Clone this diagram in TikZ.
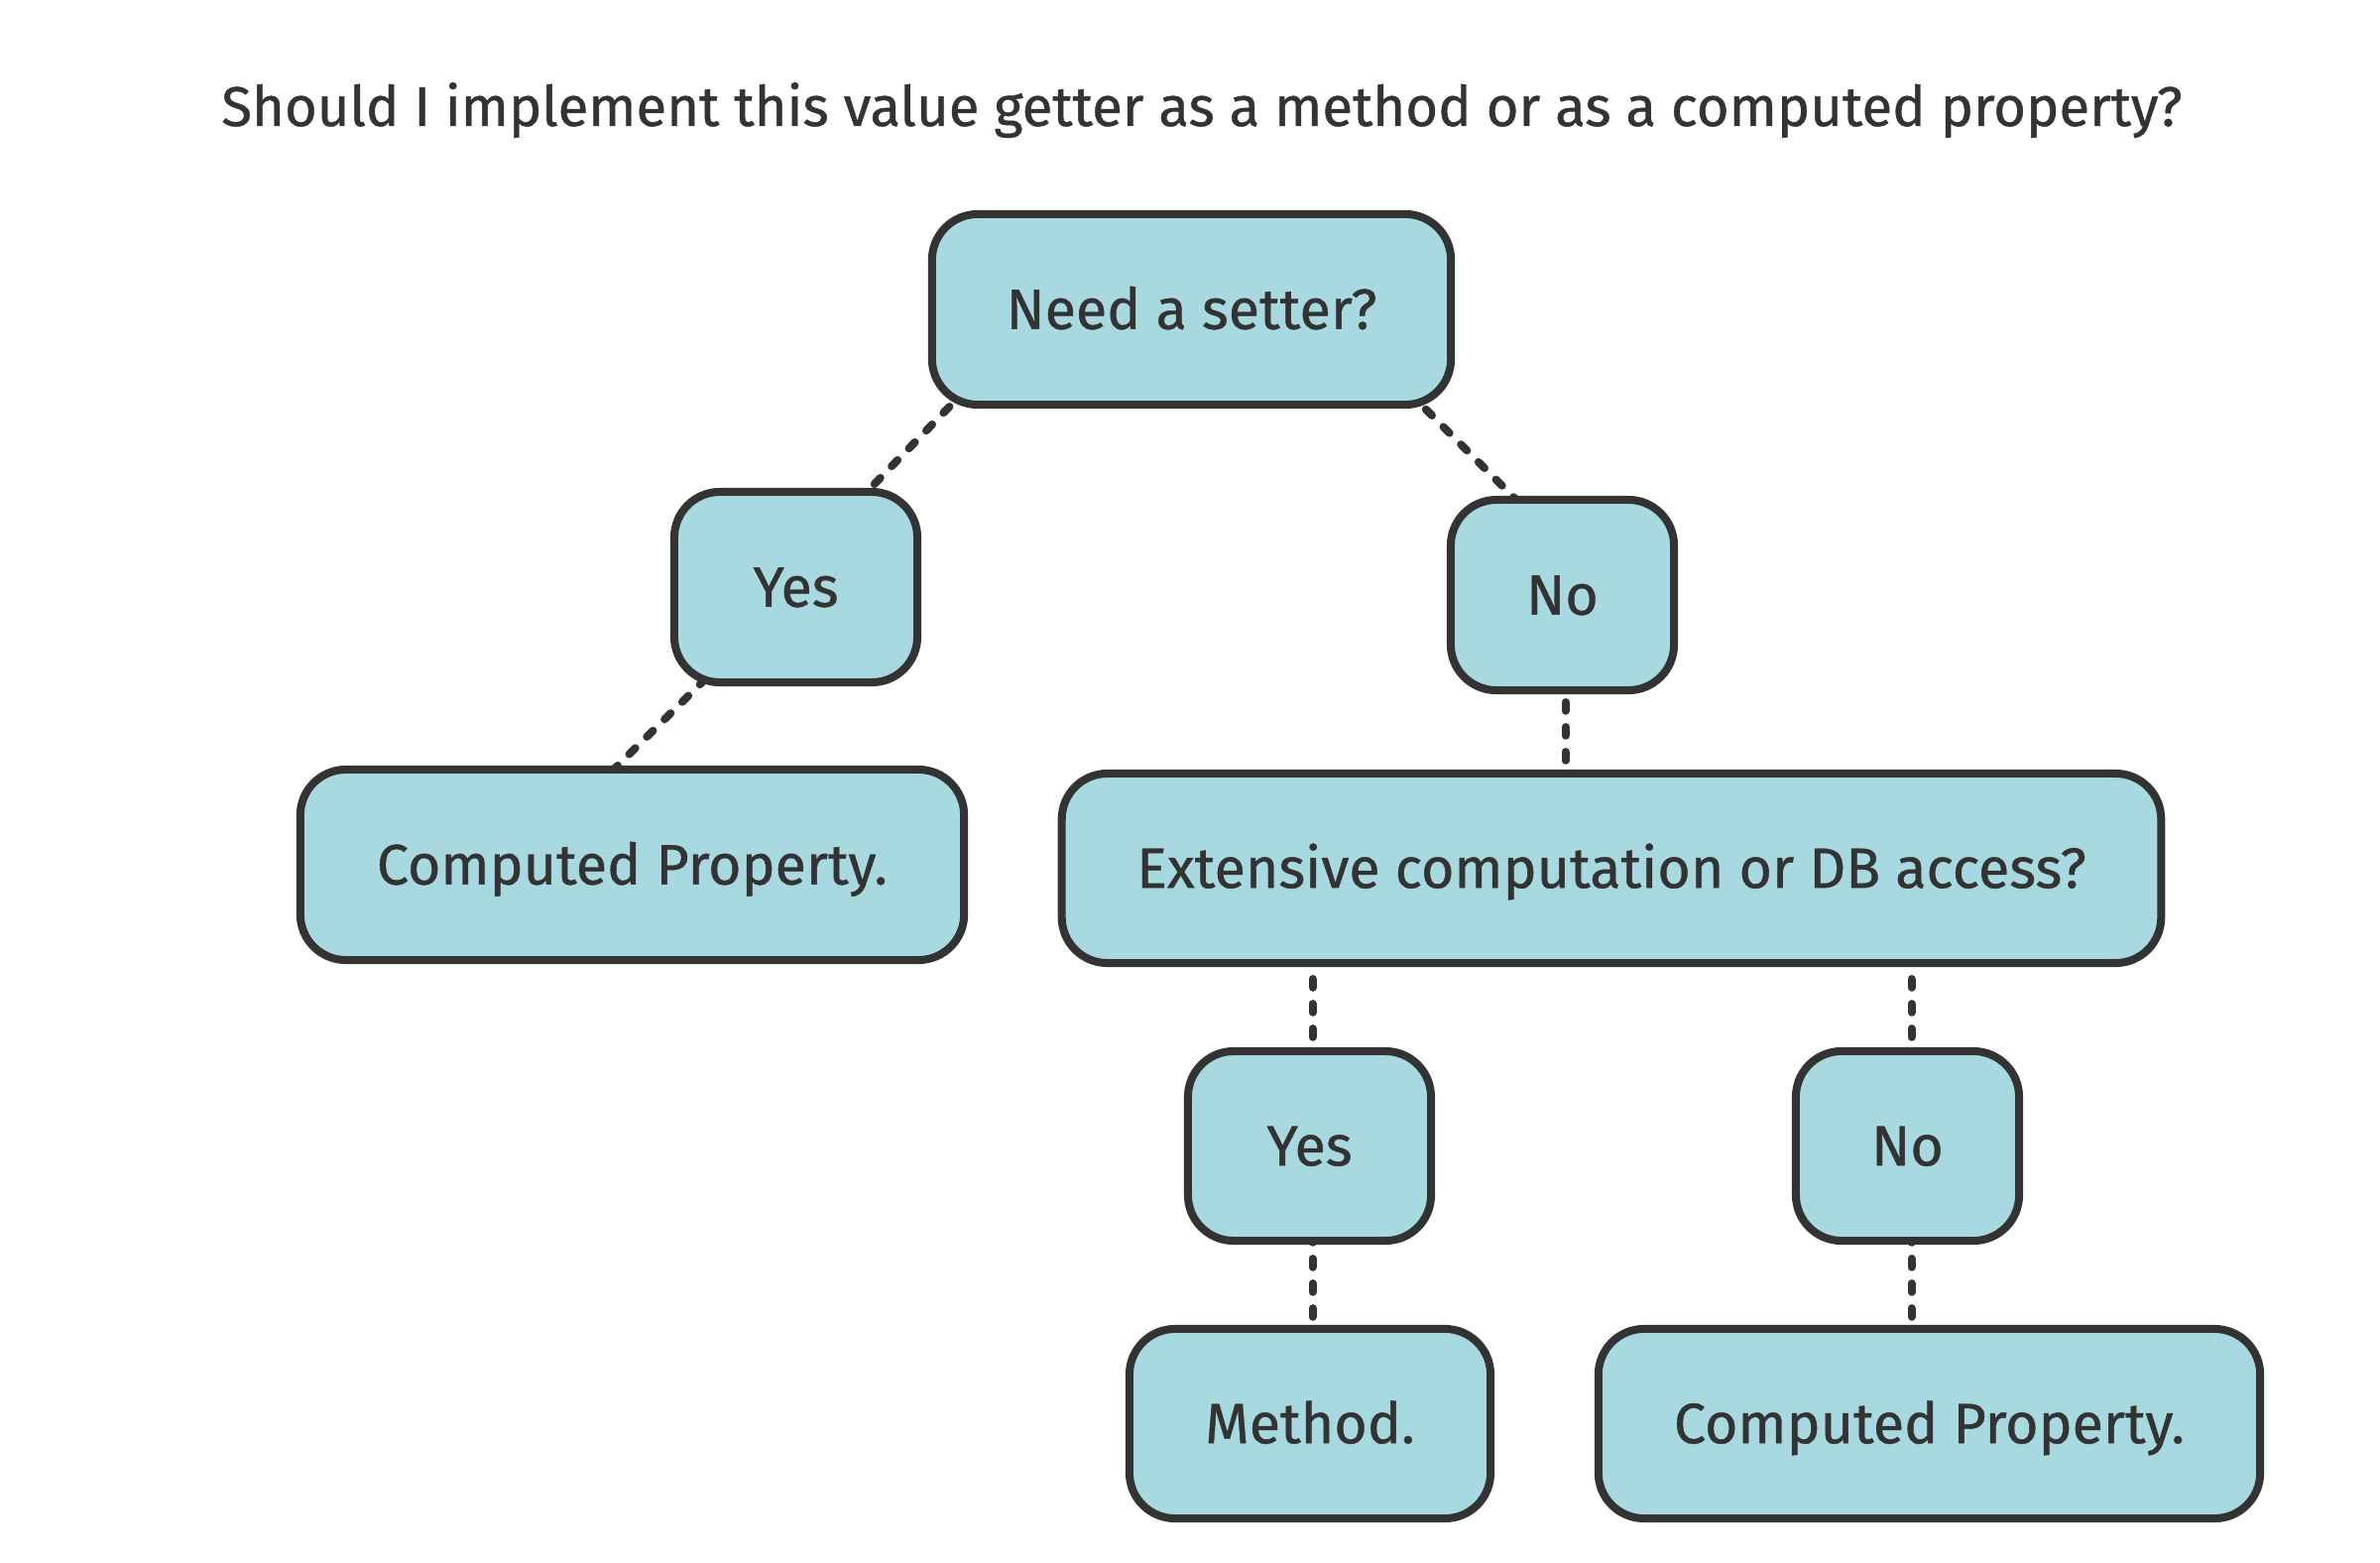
\documentclass[tikz,border=0pt]{standalone}
\usepackage{fontspec}
\setmainfont{Fira Sans}
\newfontfamily\medfont{Fira Sans}[FakeBold=0.7]
\usetikzlibrary{calc,backgrounds}
\definecolor{boxfill}{HTML}{A8D9E1}
\definecolor{ink}{HTML}{333333}
\begin{document}
\begin{tikzpicture}[x=0.01cm,y=-0.01cm,
  box/.style={draw=ink, fill=boxfill, line width=0.08cm, rounded corners=0.46cm,
    text=ink, font=\medfont\fontsize{16.3}{20}\selectfont, inner sep=0pt,
    text height=11.2pt, text depth=0pt},
  link/.style={draw=ink, line width=0.08cm, line cap=round, dash pattern=on 0.087cm off 0.163cm}]
\useasboundingbox (0,0) rectangle (2400,1576);
\node[text=ink, font=\medfont\fontsize{16}{19}\selectfont, anchor=base, inner sep=0pt] (title) at (1212,127)
  {Should I implement this value getter as a method or as a computed property?};
\node[box, minimum width=5.23cm, minimum height=1.92cm] (need) at (1201.5,312) {Need a setter?};
\node[box, minimum width=2.45cm, minimum height=1.92cm] (yes1) at (802.5,592) {Yes};
\node[box, minimum width=2.25cm, minimum height=1.92cm] (no1) at (1575.5,600) {No};
\node[box, minimum width=6.69cm, minimum height=1.92cm] (cp1) at (637.5,872) {Computed Property.};
\node[box, minimum width=11.08cm, minimum height=1.91cm] (ext) at (1625,875.5) {Extensive computation or DB access?};
\node[box, minimum width=2.45cm, minimum height=1.91cm] (yes2) at (1320.5,1155.5) {Yes};
\node[box, minimum width=2.25cm, minimum height=1.91cm] (no2) at (1923.5,1155.5) {No};
\node[box, minimum width=3.64cm, minimum height=1.91cm] (method) at (1321,1435.5) {Method.};
\node[box, minimum width=6.67cm, minimum height=1.91cm] (cp2) at (1945.5,1435.5) {Computed Property.};
\begin{pgfonlayer}{background}
\fill[white] (0,0) rectangle (2400,1576);
\draw[link] ($(need.south west)+(39,-20)$) -- ($(yes1.north east)+(-54,3)$);
\draw[link] ($(need.south east)+(-47,-17)$) -- ($(no1.north west)+(71,5)$);
\draw[link] ($(yes1.south west)+(36,-8)$) -- ($(cp1.north west)+(321,3)$);
\draw[link] ($(no1.south)+(3,8)$) -- ($(no1.south |- ext.north)+(3,-9)$);
\draw[link] ($(yes2.north |- ext.south)+(3,12)$) -- ($(yes2.north)+(3,-7)$);
\draw[link] ($(no2.north |- ext.south)+(4,12)$) -- ($(no2.north)+(4,-7)$);
\draw[link] ($(yes2.south)+(3,-11)$) -- ($(yes2.south |- method.north)+(3,-6)$);
\draw[link] ($(no2.south)+(4,-11)$) -- ($(no2.south |- cp2.north)+(4,-6)$);
\end{pgfonlayer}
\end{tikzpicture}
\end{document}
